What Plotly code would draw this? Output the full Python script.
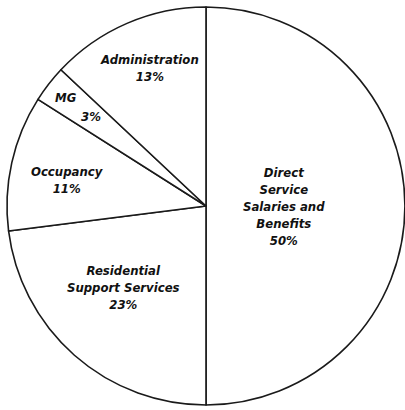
import math
import plotly.graph_objects as go

# ---- data ----
categories = ["Direct Service Salaries and Benefits", "Residential Support Services",
              "Occupancy", "MG", "Administration"]
shares = [50, 23, 11, 3, 13]
label_text = ["Direct<br>Service<br>Salaries and<br>Benefits",
              "Residential<br>Support Services",
              "Occupancy", "MG", "Administration"]

W, H = 405, 410
CX, CY, R = 206, 206, 199  # pie centre / radius in pixels

fig = go.Figure(go.Pie(
    labels=categories,
    values=shares,
    sort=False,
    direction="clockwise",
    rotation=0,
    textinfo="none",
    hoverinfo="label+percent",
    marker=dict(colors=["white"] * len(shares), line=dict(color="#1a1a1a", width=1.6)),
    domain=dict(x=[(CX - R) / W, (CX + R) / W], y=[1 - (CY + R) / H, 1 - (CY - R) / H]),
    showlegend=False,
))

font = dict(family="Liberation Sans Narrow, DejaVu Sans Condensed, Arial Narrow, sans-serif",
            size=13, color="#111", weight="bold", style="italic")

# label placement: radial fraction and angular offset (deg) per slice
radial = [0.39, 0.58, 0.71, None, 0.75]
ang_off = [0, 4, -2, 0, 1]

total = sum(shares)
cum = 0
for i, v in enumerate(shares):
    mid = (cum + v / 2) / total * 360
    cum += v
    pct = f"{round(v / total * 100)}%"
    def place(rf, txt, off=0.0):
        th = math.radians(mid + off)
        px = CX + rf * R * math.sin(th)
        py = CY - rf * R * math.cos(th)
        fig.add_annotation(x=px / W, y=1 - py / H, xref="paper", yref="paper",
                           xanchor="center", yanchor="middle",
                           text=txt, showarrow=False, font=font, align="center")
    if categories[i] == "MG":
        place(0.89, label_text[i])
        place(0.73, pct)
    else:
        place(radial[i], label_text[i] + "<br>" + pct, ang_off[i])

fig.update_layout(width=W, height=H, margin=dict(l=0, r=0, t=0, b=0),
                  paper_bgcolor="white", plot_bgcolor="white")
fig.write_html("out.html")
